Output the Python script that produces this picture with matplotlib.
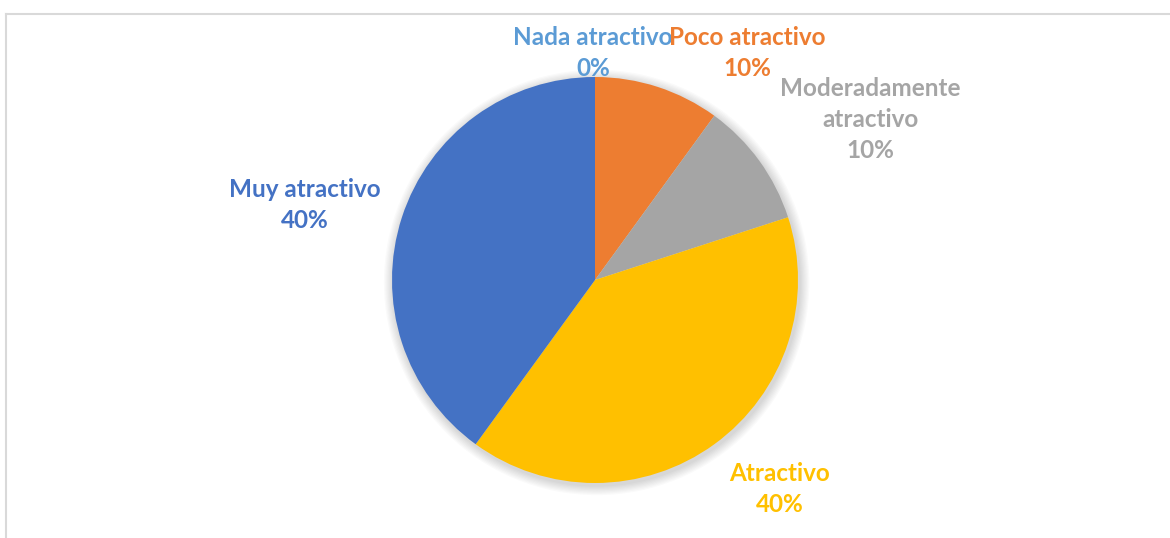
import matplotlib.pyplot as plt
from matplotlib.lines import Line2D
from matplotlib.patches import Circle

# Valoración del atractivo (porcentaje de respuestas)
categorias = ['Nada atractivo', 'Poco atractivo', 'Moderadamente\natractivo', 'Atractivo', 'Muy atractivo']
porcentajes = [0, 10, 10, 40, 40]
colores = ['#5B9BD5', '#ED7D31', '#A5A5A5', '#FFC000', '#4472C4']

# posiciones de las etiquetas (unidades del radio)
pos_etiquetas = [(-0.01, 1.12), (0.75, 1.12), (1.355, 0.79), (0.91, -1.03), (-1.43, 0.37)]

W, H, dpi = 1170, 538, 100
cx, cy, R = 595, 280, 203

fig = plt.figure(figsize=(W / dpi, H / dpi), dpi=dpi)
ax = fig.add_axes([0, 0, 1, 1])
ax.axis('off')

# sombra suave alrededor del círculo
for i in range(8):
    ax.add_patch(Circle((0.008, -0.012), 1.0 + 0.006 * (i + 1), color='black',
                        alpha=0.018, lw=0, zorder=0))

wedges, _ = ax.pie(porcentajes, colors=colores, startangle=90, counterclock=False,
                   radius=1.0, wedgeprops=dict(linewidth=0))
for w in wedges:
    w.set_zorder(2)

for cat, val, col, (x, y) in zip(categorias, porcentajes, colores, pos_etiquetas):
    ax.text(x, y, f'{cat}\n{val}%', color=col, ha='center', va='center',
            fontsize=17.5, fontweight='bold', family='Lato', linespacing=1.42, zorder=3)

ax.set_xlim(-cx / R, (W - cx) / R)
ax.set_ylim(-(H - cy) / R, cy / R)

# marco del área del gráfico
borde = '#D9D9D9'
fig.add_artist(Line2D([6 / W, 1], [1 - 14 / H, 1 - 14 / H], color=borde, lw=1.5,
                      transform=fig.transFigure))
fig.add_artist(Line2D([6 / W, 6 / W], [0, 1 - 14 / H], color=borde, lw=1.5,
                      transform=fig.transFigure))

fig.savefig('out.png', dpi=dpi)
